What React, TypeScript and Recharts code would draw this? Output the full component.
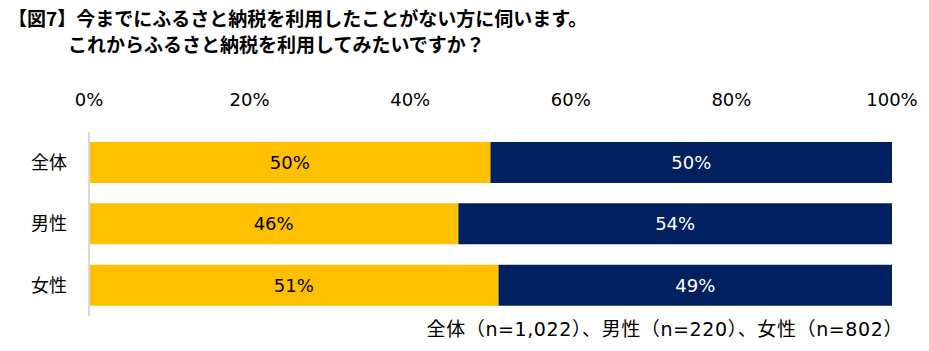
import React from "react";
import { BarChart, Bar, XAxis, YAxis, LabelList } from "recharts";

const categories = ["全体", "男性", "女性"];
const wantValues = [0.5, 0.46, 0.51];
const notWantValues = [0.5, 0.54, 0.49];
const xTicks = [0, 0.2, 0.4, 0.6, 0.8, 1];

const titleLines = [
  "【図7】今までにふるさと納税を利用したことがない方に伺います。",
  "これからふるさと納税を利用してみたいですか？",
];
const footnote = "全体（n=1,022）、男性（n=220）、女性（n=802）";

const data = categories.map((name, i) => ({
  name,
  want: wantValues[i],
  notWant: notWantValues[i],
}));

const font = '"DejaVu Sans", "Noto Sans CJK JP", sans-serif';
const pct = (v: any) => `${Math.round(Number(v) * 100)}%`;

export default function App() {
  return (
    <div
      style={{
        position: "absolute",
        left: 0,
        top: 0,
        width: 929,
        height: 351,
        background: "#fff",
        fontFamily: font,
      }}
    >
      <div
        style={{
          position: "absolute",
          left: 8,
          top: 5,
          fontSize: 19,
          fontWeight: "bold",
          lineHeight: "26px",
          color: "#000",
          fontFamily: '"Noto Sans CJK JP", sans-serif',
        }}
      >
        <div>{titleLines[0]}</div>
        <div style={{ paddingLeft: 60 }}>{titleLines[1]}</div>
      </div>
      <BarChart
        width={929}
        height={351}
        data={data}
        layout="vertical"
        barSize={41}
        margin={{ top: 92, right: 37, bottom: 35, left: 0 }}
      >
        <XAxis
          type="number"
          orientation="top"
          domain={[0, 1]}
          ticks={xTicks}
          tickFormatter={pct}
          axisLine={false}
          tickLine={false}
          tickSize={0}
          tickMargin={26}
          height={40}
          tick={{ fill: "#000", fontSize: 18, fontFamily: font }}
        />
        <YAxis
          type="category"
          dataKey="name"
          width={89}
          axisLine={{ stroke: "#d9d9d9", strokeWidth: 2 }}
          tickLine={false}
          tickSize={0}
          tickMargin={22}
          tick={{ fill: "#000", fontSize: 18, fontFamily: font }}
        />
        <Bar dataKey="want" stackId="a" fill="#FFC000" isAnimationActive={false}>
          <LabelList
            dataKey="want"
            position="center"
            formatter={pct}
            fill="#000"
            style={{ fontSize: 18, fontFamily: font }}
          />
        </Bar>
        <Bar dataKey="notWant" stackId="a" fill="#002060" isAnimationActive={false}>
          <LabelList
            dataKey="notWant"
            position="center"
            formatter={pct}
            fill="#fff"
            style={{ fontSize: 18, fontFamily: font }}
          />
        </Bar>
      </BarChart>
      <div
        style={{
          position: "absolute",
          right: 26,
          top: 314,
          fontSize: 19,
          letterSpacing: 0.6,
          color: "#000",
          whiteSpace: "nowrap",
        }}
      >
        {footnote}
      </div>
    </div>
  );
}
